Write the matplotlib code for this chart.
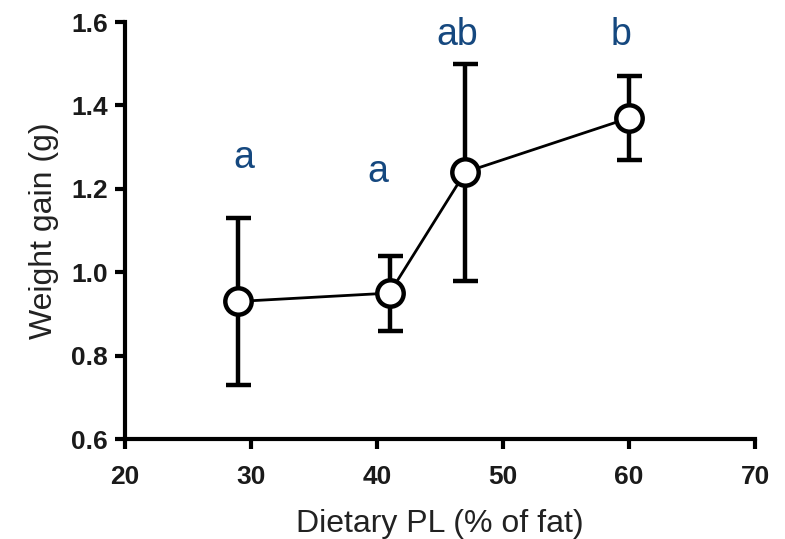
import numpy as np
import matplotlib.pyplot as plt

plt.rcParams['font.family'] = ['Liberation Sans', 'DejaVu Sans']

# data
pl_pct = [29, 41, 47, 60]
weight_gain = [0.93, 0.95, 1.24, 1.37]
err = [0.20, 0.09, 0.26, 0.10]
letters = ['a', 'a', 'ab', 'b']
letter_x = [29.4, 40.1, 46.4, 59.4]
letter_y = [1.275, 1.24, 1.57, 1.57]

fig = plt.figure(figsize=(7.85, 5.39), dpi=100)
ax = fig.add_axes([0.159, 0.1855, 0.803, 0.7735])

ax.errorbar(pl_pct, weight_gain, yerr=err, color='black', lw=2,
            elinewidth=3.2, capsize=9, capthick=3.5,
            marker='o', ms=19, mfc='white', mec='black', mew=3.2, zorder=3)

for x, y, t in zip(letter_x, letter_y, letters):
    ax.text(x, y, t, color='#15487f', fontsize=27, ha='center', va='center')

ax.set_xlim(20, 70)
ax.set_ylim(0.6, 1.6)
ax.set_xticks(np.arange(20, 71, 10))
ax.set_yticks(np.arange(0.6, 1.61, 0.2))
ax.set_yticklabels(['0.6', '0.8', '1.0', '1.2', '1.4', '1.6'])

for s in ['top', 'right']:
    ax.spines[s].set_visible(False)
for s in ['left', 'bottom']:
    ax.spines[s].set_linewidth(3)
ax.tick_params(width=3, length=7, labelsize=19)
ax.tick_params(axis='x', pad=12)
ax.tick_params(axis='y', pad=5)
for lab in ax.get_xticklabels() + ax.get_yticklabels():
    lab.set_fontweight('bold')
    lab.set_color('#1a1a1a')

ax.set_xlabel('Dietary PL (% of fat)', fontsize=23, color='#222222', labelpad=14)
ax.set_ylabel('Weight gain (g)', fontsize=23, color='#222222', labelpad=9)

plt.savefig('out.png', dpi=100)
